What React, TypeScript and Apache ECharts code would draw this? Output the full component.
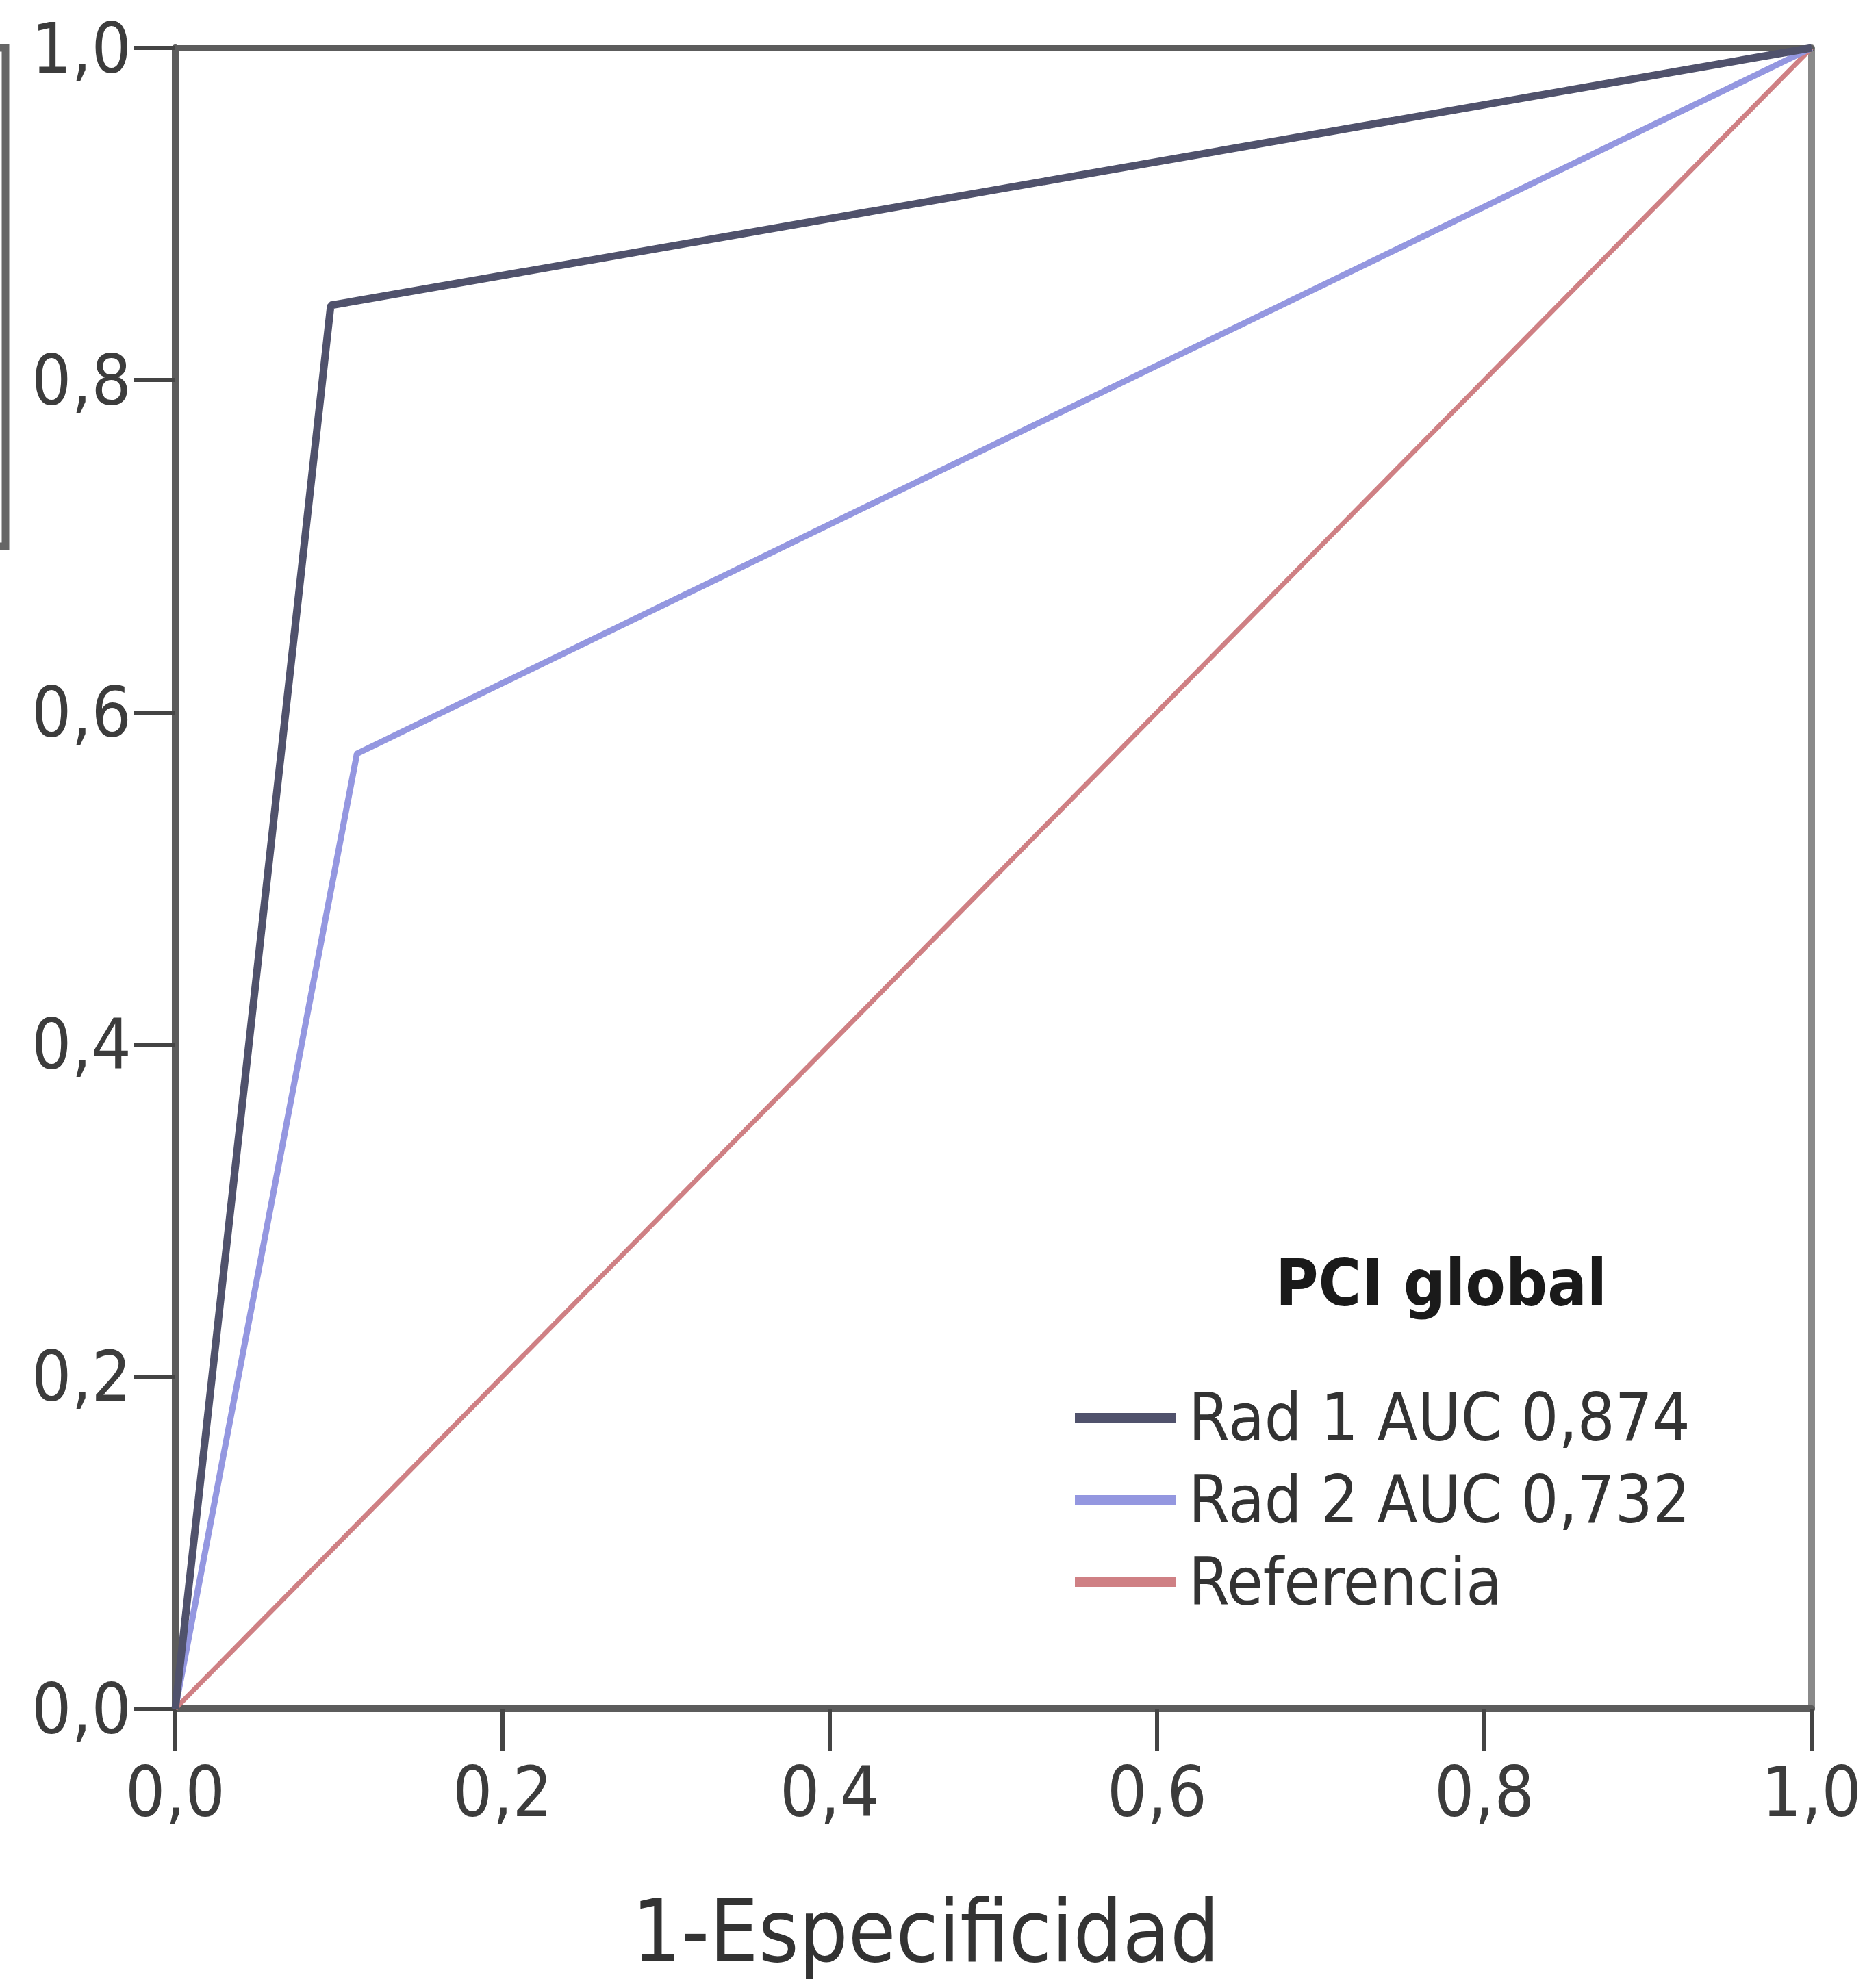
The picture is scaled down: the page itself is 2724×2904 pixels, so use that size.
import React, { useEffect, useRef } from "react";
import * as echarts from "echarts";

// ROC operating points (1-Especificidad, Sensibilidad)
const rad1Fpr = [0, 0.095, 1];
const rad1Tpr = [0, 0.845, 1];
const rad2Fpr = [0, 0.111, 1];
const rad2Tpr = [0, 0.575, 1];
const refFpr = [0, 1];
const refTpr = [0, 1];

const seriesNames = ["Rad 1 AUC 0,874", "Rad 2 AUC 0,732", "Referencia"];
const seriesColors = ["#50526c", "#9497e0", "#cf8084"];
const tickValues = [0, 0.2, 0.4, 0.6, 0.8, 1.0];
const tickLabels = ["0,0", "0,2", "0,4", "0,6", "0,8", "1,0"];
const legendTitle = "PCI global";
const xTitle = "1-Especificidad";

const FONT = "'DejaVu Sans Condensed', 'DejaVu Sans', sans-serif";

function fmt(v: number): string {
  const i = tickValues.findIndex((t) => Math.abs(t - v) < 1e-9);
  return i >= 0 ? tickLabels[i] : "";
}

function pts(xs: number[], ys: number[]) {
  return xs.map((x, i) => [x, ys[i]]);
}

export default function App() {
  const ref = useRef<HTMLDivElement>(null);
  useEffect(() => {
    document.body.style.margin = "0";
    if (!ref.current) return;
    const chart = echarts.init(ref.current, undefined, { renderer: "svg" });
    const gridLeft = 256;
    const gridTop = 70;
    const gridW = 2390;
    const gridH = 2426;
    const axisCol = "#5c5c5c";
    const labelCol = "#3c3c3c";
    chart.setOption({
      animation: false,
      backgroundColor: "#ffffff",
      grid: { left: gridLeft, top: gridTop, width: gridW, height: gridH, containLabel: false },
      xAxis: [
        {
          type: "value",
          min: 0,
          max: 1,
          interval: 0.2,
          position: "bottom",
          name: xTitle,
          nameLocation: "middle",
          nameGap: 262,
          nameTextStyle: {
            fontSize: 126,
            fontFamily: FONT,
            color: "#333333",
            padding: [0, 198, 0, 0],
          },
          axisLine: { show: true, onZero: false, lineStyle: { color: axisCol, width: 10 } },
          axisTick: { show: true, inside: false, length: 62, lineStyle: { color: "#444", width: 6 } },
          axisLabel: {
            margin: 70,
            fontSize: 102,
            fontFamily: FONT,
            color: labelCol,
            formatter: fmt,
          },
          splitLine: { show: false },
        },
        {
          type: "value",
          min: 0,
          max: 1,
          position: "top",
          axisLine: { show: true, onZero: false, lineStyle: { color: axisCol, width: 9 } },
          axisTick: { show: false },
          axisLabel: { show: false },
          splitLine: { show: false },
        },
      ],
      yAxis: [
        {
          type: "value",
          min: 0,
          max: 1,
          interval: 0.2,
          position: "left",
          axisLine: { show: true, onZero: false, lineStyle: { color: axisCol, width: 10 } },
          axisTick: { show: true, inside: false, length: 60, lineStyle: { color: "#444", width: 6 } },
          axisLabel: {
            margin: 64,
            fontSize: 102,
            fontFamily: FONT,
            color: labelCol,
            formatter: fmt,
          },
          splitLine: { show: false },
        },
        {
          type: "value",
          min: 0,
          max: 1,
          position: "right",
          axisLine: { show: true, onZero: false, lineStyle: { color: "#8a8a8a", width: 10 } },
          axisTick: { show: false },
          axisLabel: { show: false },
          splitLine: { show: false },
        },
      ],
      legend: {
        orient: "vertical",
        left: 1570,
        top: 2021,
        padding: 0,
        icon: "rect",
        itemWidth: 147,
        itemHeight: 14,
        itemGap: 20,
        data: seriesNames,
        textStyle: {
          fontSize: 96,
          lineHeight: 100,
          fontFamily: FONT,
          color: "#333333",
          padding: [0, 0, 0, 14],
        },
      },
      graphic: [
        {
          type: "text",
          x: 2105,
          y: 1874,
          style: {
            text: legendTitle,
            fontSize: 95,
            fontWeight: "bold",
            fontFamily: FONT,
            fill: "#1a1a1a",
            align: "center",
            verticalAlign: "middle",
          },
        },
        {
          type: "polyline",
          shape: { points: [[-20, 70], [8, 70], [8, 798], [-20, 798]] },
          style: { stroke: "#666666", lineWidth: 11, fill: "none" },
        },
      ],
      series: [
        {
          name: seriesNames[2],
          type: "line",
          data: pts(refFpr, refTpr),
          showSymbol: false,
          color: seriesColors[2],
          lineStyle: { color: seriesColors[2], width: 7 },
          z: 2,
        },
        {
          name: seriesNames[1],
          type: "line",
          data: pts(rad2Fpr, rad2Tpr),
          showSymbol: false,
          color: seriesColors[1],
          lineStyle: { color: seriesColors[1], width: 9 },
          z: 3,
        },
        {
          name: seriesNames[0],
          type: "line",
          data: pts(rad1Fpr, rad1Tpr),
          showSymbol: false,
          color: seriesColors[0],
          lineStyle: { color: seriesColors[0], width: 11 },
          z: 4,
        },
      ],
    });
    return () => chart.dispose();
  }, []);
  return <div ref={ref} style={{ width: 2724, height: 2904 }} />;
}
